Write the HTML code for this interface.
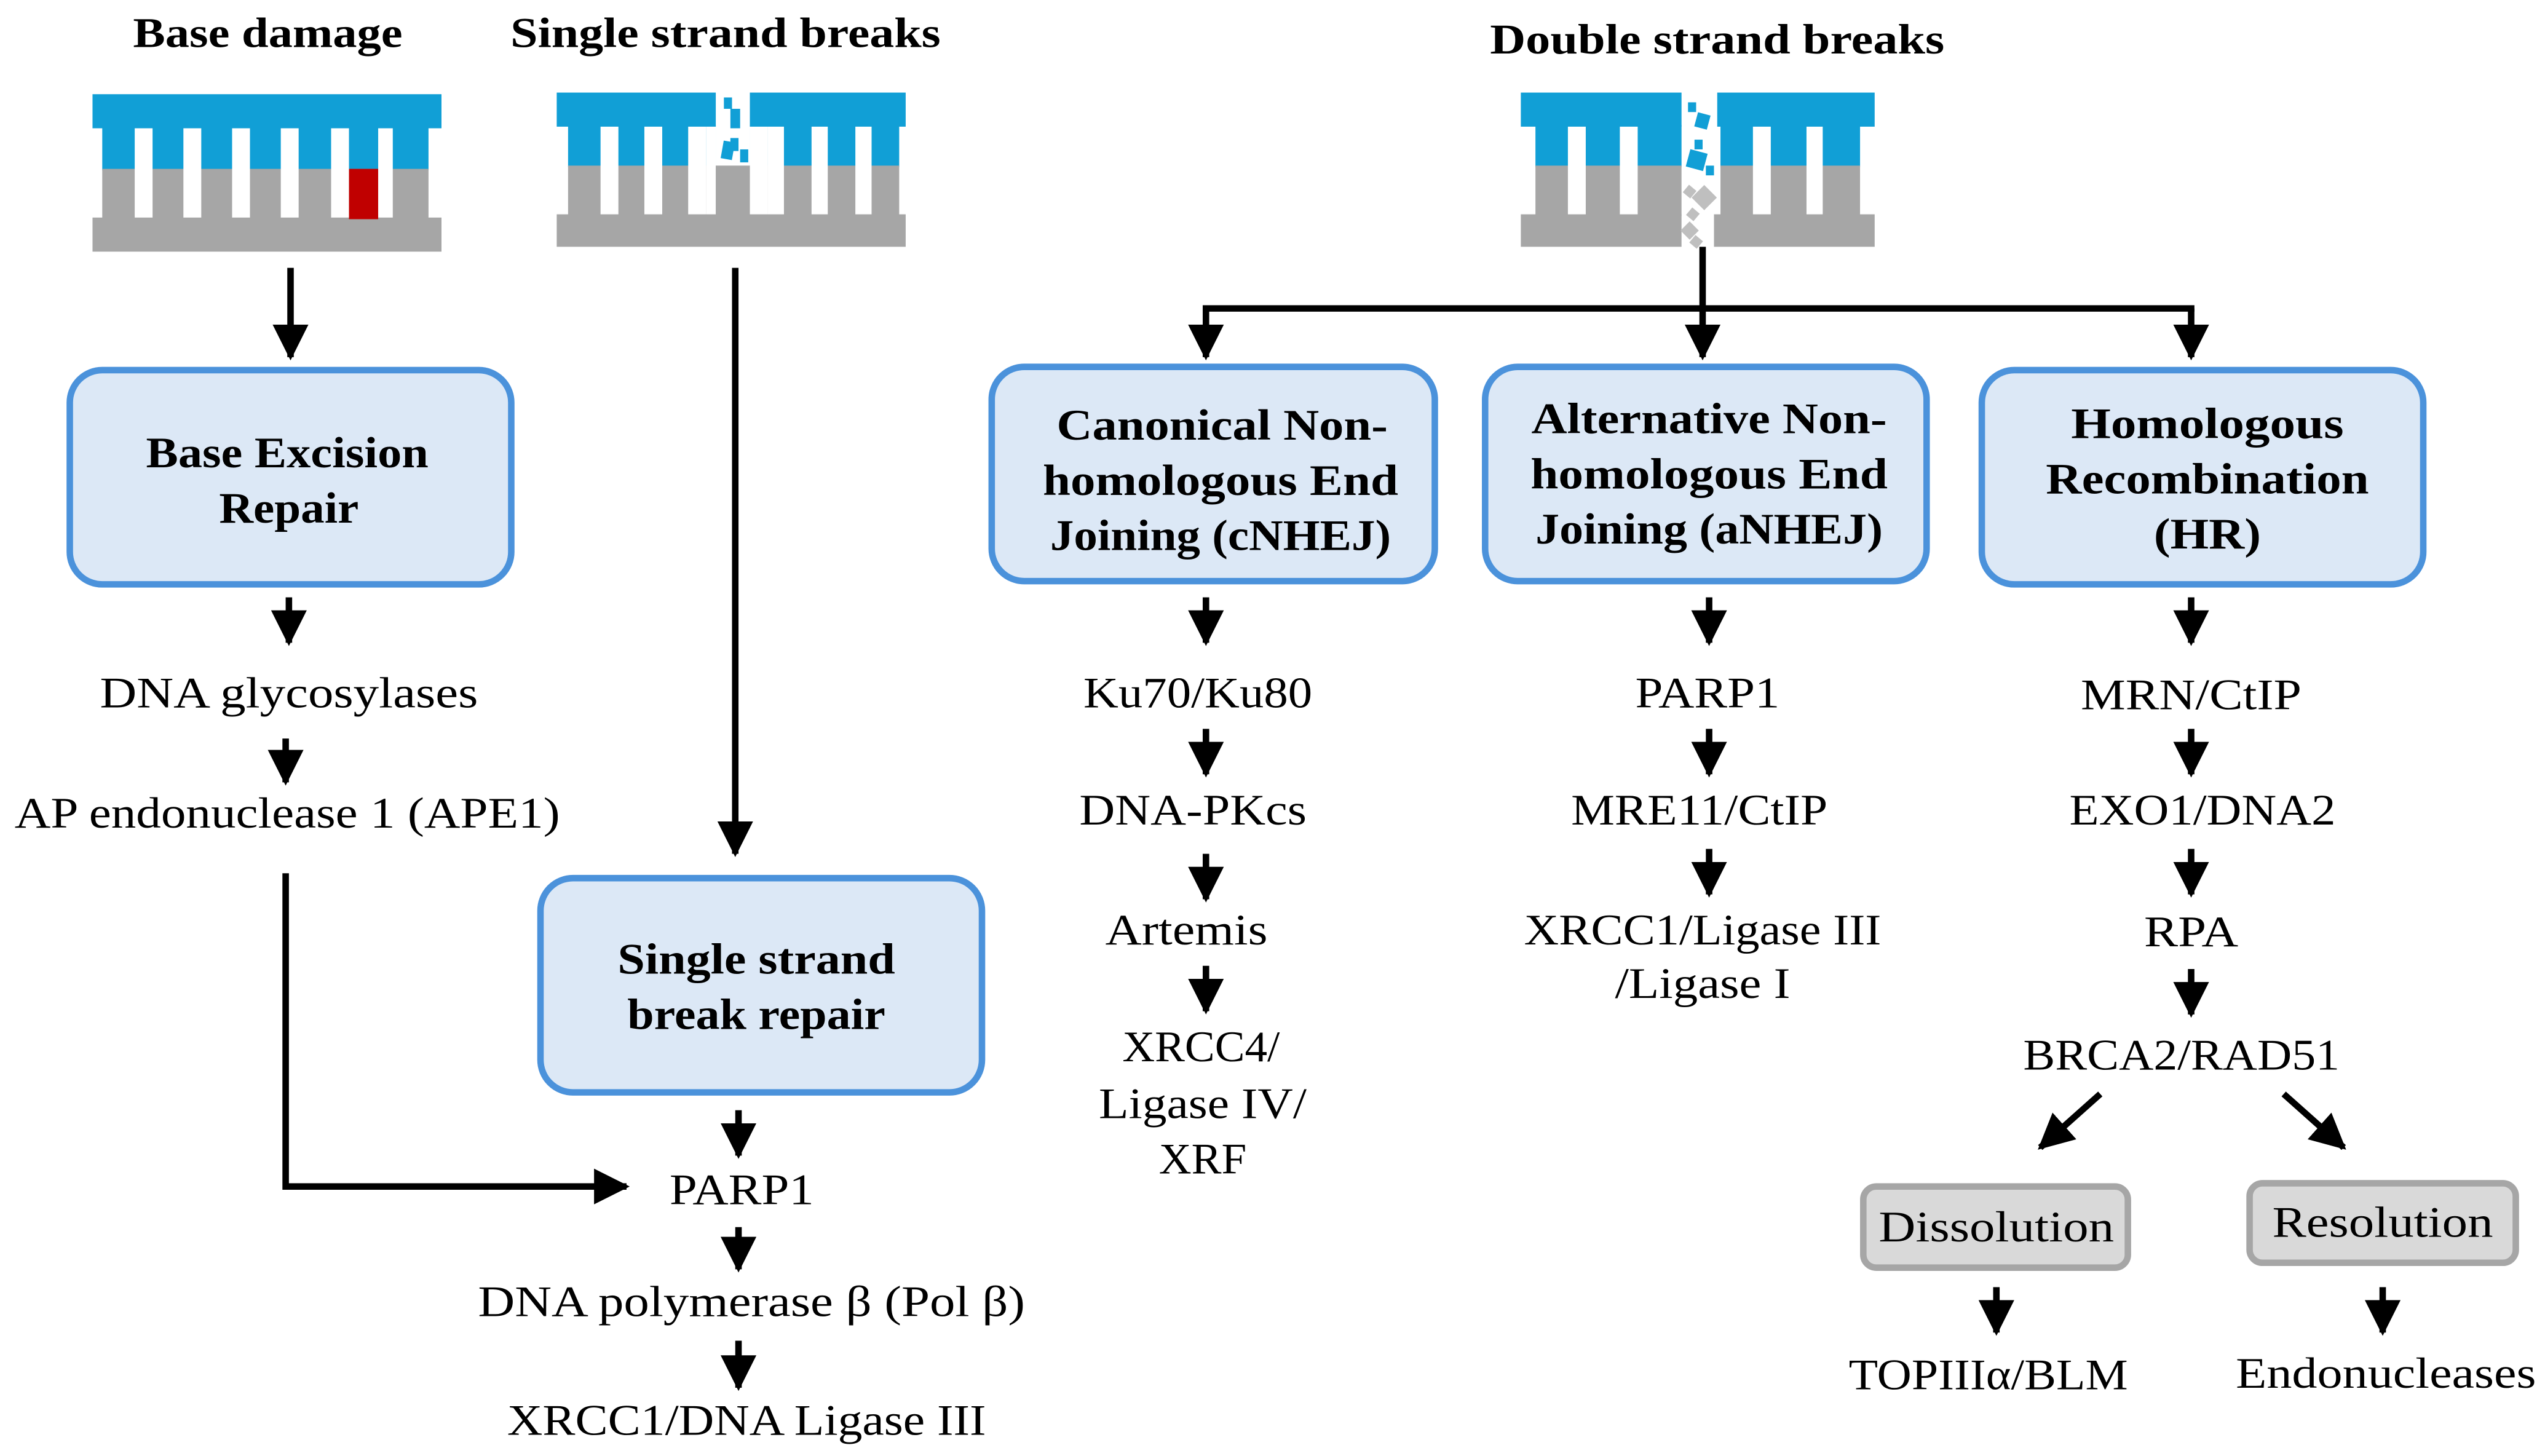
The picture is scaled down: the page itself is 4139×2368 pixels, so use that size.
<!DOCTYPE html>
<html><head><meta charset="utf-8"><style>
html,body{margin:0;padding:0;background:#fff;}
svg{display:block;}
text{font-family:"Liberation Serif",serif;fill:#000;}
.t{font-weight:bold;font-size:26px;text-anchor:middle;}
.b{font-weight:bold;font-size:27px;text-anchor:middle;dominant-baseline:central;}
.r{font-size:27px;text-anchor:middle;dominant-baseline:central;}
</style></head><body>
<svg width="4139" height="2368" viewBox="0 0 1568 897" xmlns="http://www.w3.org/2000/svg">
<defs>
<marker id="a" markerUnits="userSpaceOnUse" markerWidth="22" markerHeight="22" refX="20" refY="11" orient="auto">
<path d="M0,0 L22,11 L0,22 z" fill="#000"/>
</marker>
</defs>
<rect width="1568" height="897" fill="#fff"/>
<text class="t" x="165" y="29" textLength="166" lengthAdjust="spacingAndGlyphs">Base damage</text>
<text class="t" x="447" y="29" textLength="265" lengthAdjust="spacingAndGlyphs">Single strand breaks</text>
<text class="t" x="1058" y="33" textLength="280" lengthAdjust="spacingAndGlyphs">Double strand breaks</text>

<!-- Base damage icon -->
<g>
<rect x="57" y="58" width="215" height="21" fill="#119fd6"/>
<rect x="63" y="78" width="201" height="27" fill="#119fd6"/>
<rect x="63" y="104" width="201" height="31" fill="#a6a6a6"/>
<rect x="57" y="134" width="215" height="21" fill="#a6a6a6"/>
<rect x="215" y="104" width="18" height="31" fill="#c00000"/>
<g fill="#fff">
<rect x="83" y="79" width="11" height="55"/><rect x="113" y="79" width="11" height="55"/>
<rect x="143" y="79" width="11" height="55"/><rect x="173" y="79" width="11" height="55"/>
<rect x="204" y="79" width="11" height="55"/><rect x="233" y="79" width="9" height="55"/>
</g>
</g>
<!-- SSB icon -->
<g>
<rect x="343" y="57" width="98" height="21" fill="#119fd6"/>
<rect x="462" y="57" width="96" height="21" fill="#119fd6"/>
<rect x="350" y="77" width="91" height="26" fill="#119fd6"/>
<rect x="462" y="77" width="92" height="26" fill="#119fd6"/>
<rect x="350" y="102" width="204" height="31" fill="#a6a6a6"/>
<rect x="343" y="132" width="215" height="20" fill="#a6a6a6"/>
<g fill="#fff">
<rect x="370" y="78" width="11" height="54"/><rect x="397" y="78" width="11" height="54"/>
<rect x="424" y="78" width="11" height="54"/><rect x="473" y="78" width="10" height="54"/>
<rect x="500" y="78" width="10" height="54"/><rect x="527" y="78" width="10" height="54"/>
<rect x="441" y="78" width="21" height="24"/>
<rect x="435" y="78" width="6" height="54"/><rect x="462" y="78" width="11" height="54"/>
</g>
<rect x="441" y="102" width="21" height="30" fill="#a6a6a6"/>
<g fill="#119fd6">
<rect x="446" y="60" width="5" height="7"/><rect x="450" y="67" width="6" height="12"/>
<rect x="450" y="85" width="5" height="8"/><rect x="445" y="87" width="7" height="11" transform="rotate(10 448 92)"/>
<rect x="456" y="92" width="5" height="8"/>
</g>
</g>
<!-- DSB icon -->
<g>
<rect x="937" y="57" width="99" height="21" fill="#119fd6"/>
<rect x="1058" y="57" width="97" height="21" fill="#119fd6"/>
<rect x="946" y="77" width="90" height="26" fill="#119fd6"/>
<rect x="1060" y="77" width="86" height="26" fill="#119fd6"/>
<rect x="946" y="102" width="90" height="31" fill="#a6a6a6"/>
<rect x="1060" y="102" width="86" height="31" fill="#a6a6a6"/>
<rect x="937" y="132" width="99" height="20" fill="#a6a6a6"/>
<rect x="1056" y="132" width="99" height="20" fill="#a6a6a6"/>
<g fill="#fff">
<rect x="966" y="78" width="11" height="54"/><rect x="998" y="78" width="11" height="54"/>
<rect x="1080" y="78" width="11" height="54"/><rect x="1113" y="78" width="10" height="54"/>
</g>
<g fill="#119fd6">
<rect x="1040" y="63" width="5" height="6"/><rect x="1045" y="70" width="8" height="9" transform="rotate(15 1049 74)"/>
<rect x="1044" y="86" width="5" height="6"/><rect x="1040" y="93" width="11" height="11" transform="rotate(15 1045 98)"/>
<rect x="1051" y="102" width="5" height="6"/>
</g>
<g fill="#bfbfbf">
<rect x="1038" y="115" width="6" height="6" transform="rotate(40 1041 118)"/>
<rect x="1045" y="116" width="11" height="11" transform="rotate(45 1050 121)"/>
<rect x="1040" y="129" width="6" height="6" transform="rotate(40 1043 132)"/>
<rect x="1037" y="138" width="8" height="8" transform="rotate(45 1041 142)"/>
<rect x="1042" y="146" width="6" height="6" transform="rotate(40 1045 149)"/>
</g>
</g>

<g stroke="#000" stroke-width="4" fill="none" marker-end="url(#a)">
<line x1="179" y1="165" x2="179" y2="220"/>
<line x1="453" y1="165" x2="453" y2="526"/>
<line x1="743" y1="190" x2="743" y2="220"/>
<line x1="1049" y1="152" x2="1049" y2="220"/>
<line x1="1350" y1="190" x2="1350" y2="220"/>
<line x1="178" y1="368" x2="178" y2="396"/>
<line x1="176" y1="455" x2="176" y2="482"/>
<polyline points="176,538 176,731 386,731"/>
<line x1="455" y1="684" x2="455" y2="712"/>
<line x1="455" y1="756" x2="455" y2="782"/>
<line x1="455" y1="826" x2="455" y2="855"/>
<line x1="743" y1="368" x2="743" y2="396"/>
<line x1="743" y1="449" x2="743" y2="477"/>
<line x1="743" y1="526" x2="743" y2="554"/>
<line x1="743" y1="595" x2="743" y2="623"/>
<line x1="1053" y1="368" x2="1053" y2="396"/>
<line x1="1053" y1="449" x2="1053" y2="477"/>
<line x1="1053" y1="523" x2="1053" y2="551"/>
<line x1="1350" y1="368" x2="1350" y2="396"/>
<line x1="1350" y1="449" x2="1350" y2="477"/>
<line x1="1350" y1="523" x2="1350" y2="551"/>
<line x1="1350" y1="597" x2="1350" y2="625"/>
<line x1="1294" y1="674" x2="1257" y2="707"/>
<line x1="1407" y1="674" x2="1444" y2="707"/>
<line x1="1230" y1="793" x2="1230" y2="821"/>
<line x1="1468" y1="793" x2="1468" y2="821"/>
</g>
<line x1="741" y1="190" x2="1352" y2="190" stroke="#000" stroke-width="4"/>

<g fill="#dce8f6" stroke="#4b92db" stroke-width="4">
<rect x="43" y="228" width="272" height="132" rx="20"/>
<rect x="333" y="541" width="272" height="132" rx="20"/>
<rect x="611" y="226" width="273" height="132" rx="20"/>
<rect x="915" y="226" width="272" height="132" rx="20"/>
<rect x="1221" y="228" width="272" height="132" rx="20"/>
</g>
<g fill="#d9d9d9" stroke="#a6a6a6" stroke-width="4">
<rect x="1148" y="731" width="163" height="50" rx="8"/>
<rect x="1386" y="729" width="164" height="49" rx="8"/>
</g>

<g lengthAdjust="spacingAndGlyphs">
<text class="b" x="177" y="279" textLength="174" lengthAdjust="spacingAndGlyphs">Base Excision</text>
<text class="b" x="178" y="313" textLength="86" lengthAdjust="spacingAndGlyphs">Repair</text>
<text class="b" x="466" y="591" textLength="171" lengthAdjust="spacingAndGlyphs">Single strand</text>
<text class="b" x="466" y="625" textLength="159" lengthAdjust="spacingAndGlyphs">break repair</text>
<text class="b" x="753" y="262" textLength="204" lengthAdjust="spacingAndGlyphs">Canonical Non-</text>
<text class="b" x="752" y="296" textLength="219" lengthAdjust="spacingAndGlyphs">homologous End</text>
<text class="b" x="752" y="330" textLength="210" lengthAdjust="spacingAndGlyphs">Joining (cNHEJ)</text>
<text class="b" x="1053" y="258" textLength="219" lengthAdjust="spacingAndGlyphs">Alternative Non-</text>
<text class="b" x="1053" y="292" textLength="220" lengthAdjust="spacingAndGlyphs">homologous End</text>
<text class="b" x="1053" y="326" textLength="214" lengthAdjust="spacingAndGlyphs">Joining (aNHEJ)</text>
<text class="b" x="1360" y="261" textLength="168" lengthAdjust="spacingAndGlyphs">Homologous</text>
<text class="b" x="1360" y="295" textLength="199" lengthAdjust="spacingAndGlyphs">Recombination</text>
<text class="b" x="1360" y="329" textLength="66" lengthAdjust="spacingAndGlyphs">(HR)</text>

<text class="r" x="178" y="427" textLength="233" lengthAdjust="spacingAndGlyphs">DNA glycosylases</text>
<text class="r" x="177" y="501" textLength="336" lengthAdjust="spacingAndGlyphs">AP endonuclease 1 (APE1)</text>
<text class="r" x="457" y="733" textLength="89" lengthAdjust="spacingAndGlyphs">PARP1</text>
<text class="r" x="463" y="802" textLength="337" lengthAdjust="spacingAndGlyphs">DNA polymerase β (Pol β)</text>
<text class="r" x="460" y="875" textLength="295" lengthAdjust="spacingAndGlyphs">XRCC1/DNA Ligase III</text>
<text class="r" x="738" y="427" textLength="141" lengthAdjust="spacingAndGlyphs">Ku70/Ku80</text>
<text class="r" x="735" y="499" textLength="140" lengthAdjust="spacingAndGlyphs">DNA-PKcs</text>
<text class="r" x="731" y="573" textLength="100" lengthAdjust="spacingAndGlyphs">Artemis</text>
<text class="r" x="740" y="645" textLength="97" lengthAdjust="spacingAndGlyphs">XRCC4/</text>
<text class="r" x="741" y="680" textLength="128" lengthAdjust="spacingAndGlyphs">Ligase IV/</text>
<text class="r" x="741" y="714" textLength="54" lengthAdjust="spacingAndGlyphs">XRF</text>
<text class="r" x="1052" y="427" textLength="89" lengthAdjust="spacingAndGlyphs">PARP1</text>
<text class="r" x="1047" y="499" textLength="158" lengthAdjust="spacingAndGlyphs">MRE11/CtIP</text>
<text class="r" x="1049" y="573" textLength="220" lengthAdjust="spacingAndGlyphs">XRCC1/Ligase III</text>
<text class="r" x="1049" y="606" textLength="108" lengthAdjust="spacingAndGlyphs">/Ligase I</text>
<text class="r" x="1350" y="428" textLength="136" lengthAdjust="spacingAndGlyphs">MRN/CtIP</text>
<text class="r" x="1357" y="499" textLength="164" lengthAdjust="spacingAndGlyphs">EXO1/DNA2</text>
<text class="r" x="1350" y="574" textLength="58" lengthAdjust="spacingAndGlyphs">RPA</text>
<text class="r" x="1344" y="650" textLength="195" lengthAdjust="spacingAndGlyphs">BRCA2/RAD51</text>
<text class="r" x="1230" y="756" textLength="145" lengthAdjust="spacingAndGlyphs">Dissolution</text>
<text class="r" x="1468" y="753" textLength="136" lengthAdjust="spacingAndGlyphs">Resolution</text>
<text class="r" x="1225" y="847" textLength="172" lengthAdjust="spacingAndGlyphs">TOPIIIα/BLM</text>
<text class="r" x="1470" y="846" textLength="185" lengthAdjust="spacingAndGlyphs">Endonucleases</text>
</g>
</svg>
</body></html>
